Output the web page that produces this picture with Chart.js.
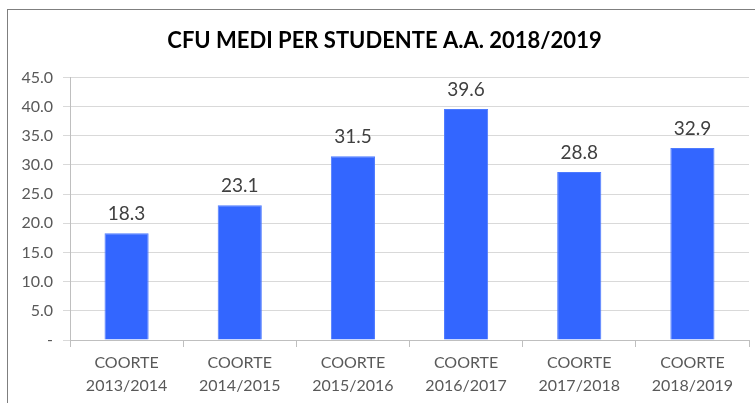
<!DOCTYPE html>
<html>
<head>
<meta charset="utf-8">
<script src="https://cdn.jsdelivr.net/npm/chart.js@4"></script>
<style>
  body { margin: 0; background: #fff; }
  #frame { position: absolute; left: 7px; top: 9px; width: 800px; height: 450px; border: 1px solid #7f7f7f; }
  #wrap { position: absolute; left: 0; top: 0; width: 755px; height: 403px; }
</style>
</head>
<body>
<div id="frame"></div>
<div id="wrap"><canvas id="myChart" width="755" height="403"></canvas></div>
<script>
const labels = [
    ["COORTE", "2013/2014"],
    ["COORTE", "2014/2015"],
    ["COORTE", "2015/2016"],
    ["COORTE", "2016/2017"],
    ["COORTE", "2017/2018"],
    ["COORTE", "2018/2019"]
];
const cfuValues = [18.3, 23.1, 31.5, 39.6, 28.8, 32.9];
const yMax = 45;
const yStep = 5;

const fontFamily = "'Lato', 'Noto Sans', sans-serif";

// draws the value above each bar
const valueLabels = {
    id: 'valueLabels',
    afterDatasetsDraw(chart) {
        const ctx = chart.ctx;
        const meta = chart.getDatasetMeta(0);
        ctx.save();
        ctx.font = "19px " + fontFamily;
        ctx.fillStyle = '#404040';
        ctx.textAlign = 'center';
        ctx.textBaseline = 'alphabetic';
        meta.data.forEach((bar, i) => {
            ctx.fillText(cfuValues[i].toFixed(1), bar.x, bar.y - 13);
        });
        ctx.restore();
    }
};

const ctx = document.getElementById('myChart').getContext('2d');
const chart = new Chart(ctx, {
    type: 'bar',
    data: {
        labels: labels,
        datasets: [{
            label: "CFU medi",
            data: cfuValues,
            backgroundColor: "#3366ff",
            borderColor: "#4d7aff",
            borderWidth: 1,
            categoryPercentage: 1,
            barPercentage: 0.39
        }]
    },
    options: {
        responsive: false,
        animation: false,
        layout: { padding: { left: 20, right: 6, top: 0, bottom: 0 } },
        plugins: {
            legend: { display: false },
            tooltip: { enabled: false },
            title: {
                display: true,
                text: 'CFU MEDI PER STUDENTE A.A. 2018/2019',
                color: '#000',
                font: { family: fontFamily, weight: 'bold', size: 22 },
                padding: { top: 28, bottom: 23 }
            }
        },
        scales: {
            x: {
                grid: { offset: true, drawOnChartArea: false, tickLength: 7, color: '#bfbfbf' },
                border: { color: '#bfbfbf' },
                ticks: {
                    color: '#595959',
                    font: { family: fontFamily, size: 16, lineHeight: 1.4 },
                    padding: 5,
                    maxRotation: 0
                },
                afterFit(scale) { scale.height = 63; }
            },
            y: {
                min: 0,
                max: yMax,
                grid: { color: '#d9d9d9', tickLength: 7 },
                border: { color: '#bfbfbf' },
                ticks: {
                    stepSize: yStep,
                    color: '#595959',
                    font: { family: fontFamily, size: 16 },
                    padding: 10,
                    callback: (v) => v === 0 ? '-' : v.toFixed(1)
                },
                afterFit(scale) { scale.width = 50; }
            }
        }
    },
    plugins: [valueLabels]
});
</script>
</body>
</html>
